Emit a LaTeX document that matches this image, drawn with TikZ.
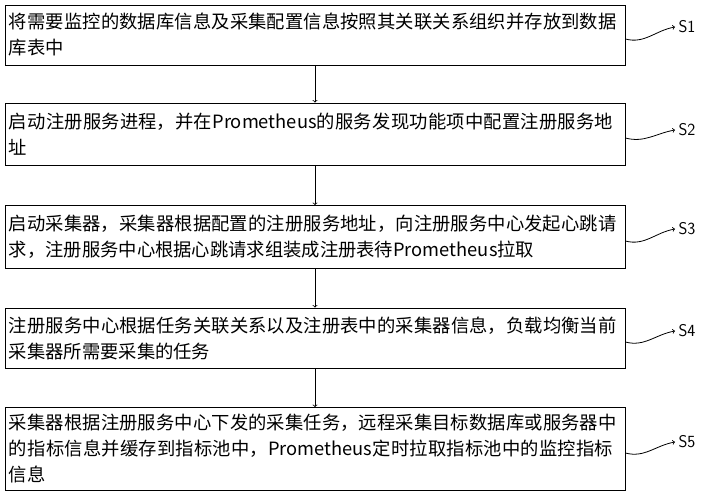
\documentclass[tikz,border=0pt]{standalone}
\usepackage{fontspec}
\newfontfamily\cjk{Noto Sans CJK SC}
\XeTeXlinebreaklocale "zh"
\XeTeXlinebreakskip=0pt plus 1pt
\usetikzlibrary{positioning}
\newcommand{\lastcentered}{\leftskip=0pt plus 1fil\rightskip=0pt plus -1fil\parfillskip=0pt plus 2fil\relax}
\begin{document}
\begin{tikzpicture}[x=1pt,y=-1pt]
 \tikzset{stepbox/.style={draw, thick, minimum width=620pt, text width=612pt, align=left, inner sep=2pt, font=\cjk\fontsize{18.3}{26}\selectfont},
   directed/.style={->, thick},
   tag/.style={font=\sffamily\fontsize{17}{20}\selectfont, anchor=west}}
  \useasboundingbox (0,0) rectangle (705,500);
  \node[stepbox, minimum height=60pt] (B1) at (315,35) {\lastcentered 将需要监控的数据库信息及采集配置信息按照其关联关系组织并存放到数据库表中};
  \node[stepbox, minimum height=62pt] (B2) at (315,134) {\lastcentered 启动注册服务进程，并在Prometheus的服务发现功能项中配置注册服务地址};
  \node[stepbox, minimum height=63pt] (B3) at (315,237) {启动采集器，采集器根据配置的注册服务地址，向注册服务中心发起心跳请求，注册服务中心根据心跳请求组装成注册表待Prometheus拉取};
  \node[stepbox, minimum height=60pt] (B4) at (315,338) {注册服务中心根据任务关联关系以及注册表中的采集器信息，负载均衡当前采集器所需要采集的任务};
  \node[stepbox, minimum height=83pt] (B5) at (315,449) {\lastcentered 采集器根据注册服务中心下发的采集任务，远程采集目标数据库或服务器中的指标信息并缓存到指标池中，Prometheus定时拉取指标池中的监控指标信息};
  \node[tag] (S1) at (675,27) {S1};
  \node[tag] (S2) at (675,130) {S2};
  \node[tag] (S3) at (675,229) {S3};
  \node[tag] (S4) at (675,331) {S4};
  \node[tag] (S5) at (675,442) {S5};
  \draw[directed] (B1) -- (B2);
  \draw[directed] (B2) -- (B3);
  \draw[directed] (B3) -- (B4);
  \draw[directed] (B4) -- (B5);
  \foreach \i in {1,...,5}
    \draw[directed] ([yshift=-4pt]B\i.east) to[out=-15, in=190] (S\i.west);
\end{tikzpicture}
\end{document}
